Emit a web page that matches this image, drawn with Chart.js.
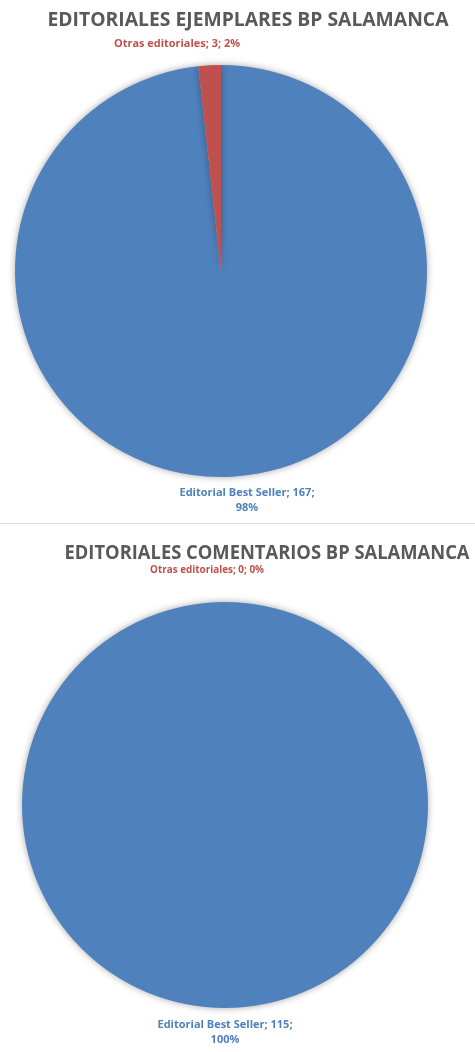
<!DOCTYPE html>
<html>
<head>
<meta charset="utf-8">
<script src="https://cdn.jsdelivr.net/npm/chart.js@4/dist/chart.umd.min.js"></script>
<style>
    body { margin: 0; background: #fff; width: 475px; height: 1052px; overflow: hidden; }
    #c1 { position: absolute; left: 0; top: 0; }
    #sep { position: absolute; left: 0; top: 523px; width: 475px; height: 1px; background: #d9d9d9; }
    #c2 { position: absolute; left: 0; top: 524px; }
</style>
</head>
<body>
<canvas id="c1" width="475" height="523"></canvas>
<div id="sep"></div>
<canvas id="c2" width="475" height="528"></canvas>
<script>
// data
const categories = ['Editorial Best Seller', 'Otras editoriales'];
const ejemplares = [167, 3];
const comentarios = [115, 0];
const titles = ['EDITORIALES EJEMPLARES BP SALAMANCA', 'EDITORIALES COMENTARIOS BP SALAMANCA'];

const sliceColors = ['#4f81bd', '#c0504d'];

// draws the title and the "name; value; pct" labels next to the pie
const pieText = {
    id: 'pieText',
    beforeDatasetsDraw(chart) {
        const ctx = chart.ctx;
        ctx.save();
        ctx.shadowColor = 'rgba(0,0,0,0.35)';
        ctx.shadowBlur = 7;
    },
    afterDatasetsDraw(chart) {
        chart.ctx.restore();
    },
    afterDraw(chart, args, opts) {
        const ctx = chart.ctx;
        const arc = chart.getDatasetMeta(0).data[0];
        const cx = arc.x, cy = arc.y;
        const values = chart.data.datasets[0].data;
        const total = values.reduce((a, b) => a + b, 0);
        ctx.save();
        ctx.textAlign = 'center';
        ctx.textBaseline = 'middle';
        ctx.fillStyle = '#595959';
        ctx.font = 'bold 19.5px "Open Sans"';
        ctx.fillText(opts.title, opts.titleX, opts.titleY, opts.titleWidth);
        ctx.font = 'bold 11px "Open Sans"';
        opts.labels.forEach((lab, i) => {
            const pct = Math.round(values[i] / total * 100) + '%';
            const txt = chart.data.labels[i] + '; ' + values[i] + ';';
            ctx.fillStyle = sliceColors[i];
            if (lab.wrap) {
                ctx.fillText(txt, cx + lab.dx, cy + lab.dy, lab.w);
                ctx.fillText(pct, cx + lab.dx, cy + lab.dy + 15);
            } else {
                ctx.fillText(txt + ' ' + pct, cx + lab.dx, cy + lab.dy, lab.w);
            }
        });
        ctx.restore();
    }
};

function makePie(id, values, title, padding, textOpts) {
    return new Chart(document.getElementById(id), {
        type: 'pie',
        data: {
            labels: categories,
            datasets: [{
                data: values,
                backgroundColor: sliceColors,
                borderWidth: 0
            }]
        },
        options: {
            responsive: false,
            animation: false,
            layout: { padding: padding },
            plugins: {
                legend: { display: false },
                tooltip: { enabled: false },
                pieText: Object.assign({ title: title }, textOpts)
            }
        },
        plugins: [pieText]
    });
}

makePie('c1', ejemplares, titles[0],
    { left: 15, right: 48, top: 65, bottom: 46 },
    {
        titleX: 248, titleY: 20, titleWidth: 401,
        labels: [
            { dx: 26, dy: 222, w: 150, wrap: true },
            { dx: -44, dy: -227, w: 126, wrap: false }
        ]
    });

makePie('c2', comentarios, titles[1],
    { left: 22, right: 47, top: 78, bottom: 44 },
    {
        titleX: 267, titleY: 29, titleWidth: 405,
        labels: [
            { dx: 0, dy: 220, w: 150, wrap: true },
            { dx: -18, dy: -235, w: 114, wrap: false }
        ]
    });
</script>
</body>
</html>
